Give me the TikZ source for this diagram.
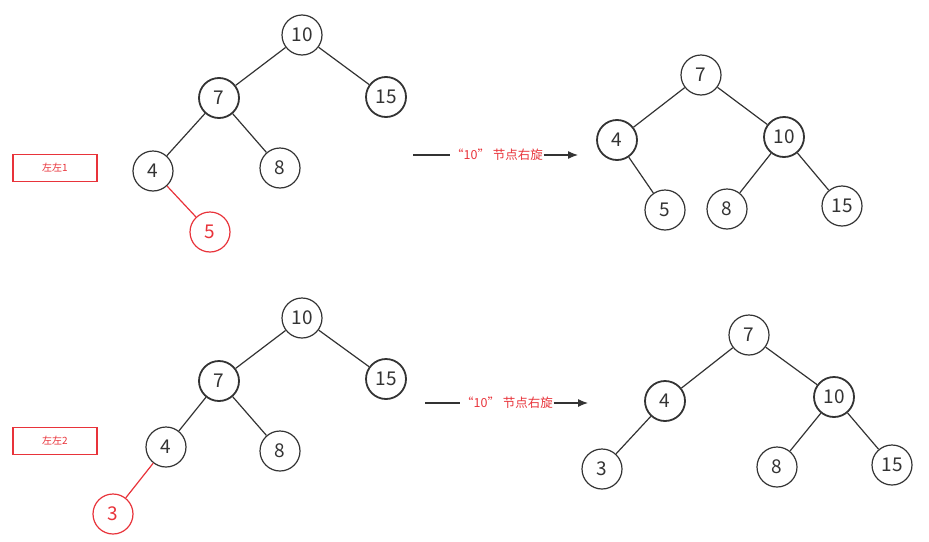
\documentclass[tikz,border=0pt]{standalone}
\usepackage{fontspec}
\setmainfont{Noto Sans CJK SC}
\usetikzlibrary{arrows.meta}
\definecolor{ink}{HTML}{333333}
\definecolor{hot}{HTML}{E8333A}
\tikzset{
  tn/.style={circle, draw=ink, line width=1.2pt, minimum size=40pt, inner sep=0pt,
    text=ink, font=\fontsize{19}{19}\selectfont},
  tnb/.style={tn, line width=1.8pt},
  tnr/.style={tn, draw=hot, text=hot},
  edge/.style={draw=ink, line width=1.2pt},
  redge/.style={draw=hot, line width=1.2pt},
  tag/.style={draw=hot, line width=1.2pt, minimum width=84pt, minimum height=27pt,
    inner sep=0pt, text=hot, font=\fontsize{10}{10}\selectfont},
  rot/.style={text=hot, font=\fontsize{12.5}{12.5}\selectfont, inner sep=0.5pt},
  move/.style={draw=ink, line width=1.2pt},
  movea/.style={move, -{Latex[length=10pt,width=8pt]}}
}
\begin{document}
\begin{tikzpicture}[x=1pt,y=-1pt]
\useasboundingbox (0,0) rectangle (929,541);

% ---- case 1: before rotation ----
\node[tn]  (a10) at (302,35)  {10};
\node[tnb] (a7)  at (219,98)  {7};
\node[tnb] (a15) at (386,97)  {15};
\node[tn]  (a4)  at (153,171) {4};
\node[tn]  (a8)  at (280,168) {8};
\node[tnr] (a5)  at (210,232) {5};
\draw[edge] (a10) -- (a7);
\draw[edge] (a10) -- (a15);
\draw[edge] (a7) -- (a4);
\draw[edge] (a7) -- (a8);
\draw[redge] (a4) -- (a5);

\node[tag] (t1) at (55,168) {左左1};

% rotation arrow 1
\coordinate (s1) at (413,155);
\coordinate (e1) at (578,155);
\node[rot] (r1) at (497,155) {“10” 节点右旋};
\draw[move] (s1) -- (r1.west);
\draw[movea] (r1.east) -- (e1);

% ---- case 1: after rotation ----
\node[tn]  (b7)  at (701,75)  {7};
\node[tnb] (b4)  at (617,140) {4};
\node[tnb] (b10) at (784,137) {10};
\node[tn]  (b5)  at (665,210) {5};
\node[tn]  (b8)  at (727,209) {8};
\node[tn]  (b15) at (842,206) {15};
\draw[edge] (b7) -- (b4);
\draw[edge] (b7) -- (b10);
\draw[edge] (b4) -- (b5);
\draw[edge] (b10) -- (b8);
\draw[edge] (b10) -- (b15);

% ---- case 2: before rotation ----
\node[tn]  (c10) at (302,318) {10};
\node[tnb] (c7)  at (219,381) {7};
\node[tnb] (c15) at (386,379) {15};
\node[tn]  (c4)  at (166,447) {4};
\node[tn]  (c8)  at (280,451) {8};
\node[tnr] (c3)  at (113,514) {3};
\draw[edge] (c10) -- (c7);
\draw[edge] (c10) -- (c15);
\draw[edge] (c7) -- (c4);
\draw[edge] (c7) -- (c8);
\draw[redge] (c4) -- (c3);

\node[tag] (t2) at (55,441) {左左2};

% rotation arrow 2
\coordinate (s2) at (425,403);
\coordinate (e2) at (588,403);
\node[rot] (r2) at (507,403) {“10” 节点右旋};
\draw[move] (s2) -- (r2.west);
\draw[movea] (r2.east) -- (e2);

% ---- case 2: after rotation ----
\node[tn]  (d7)  at (749,335) {7};
\node[tnb] (d4)  at (665,401) {4};
\node[tnb] (d10) at (834,397) {10};
\node[tn]  (d3)  at (602,469) {3};
\node[tn]  (d8)  at (777,467) {8};
\node[tn]  (d15) at (892,465) {15};
\draw[edge] (d7) -- (d4);
\draw[edge] (d7) -- (d10);
\draw[edge] (d4) -- (d3);
\draw[edge] (d10) -- (d8);
\draw[edge] (d10) -- (d15);
\end{tikzpicture}
\end{document}
